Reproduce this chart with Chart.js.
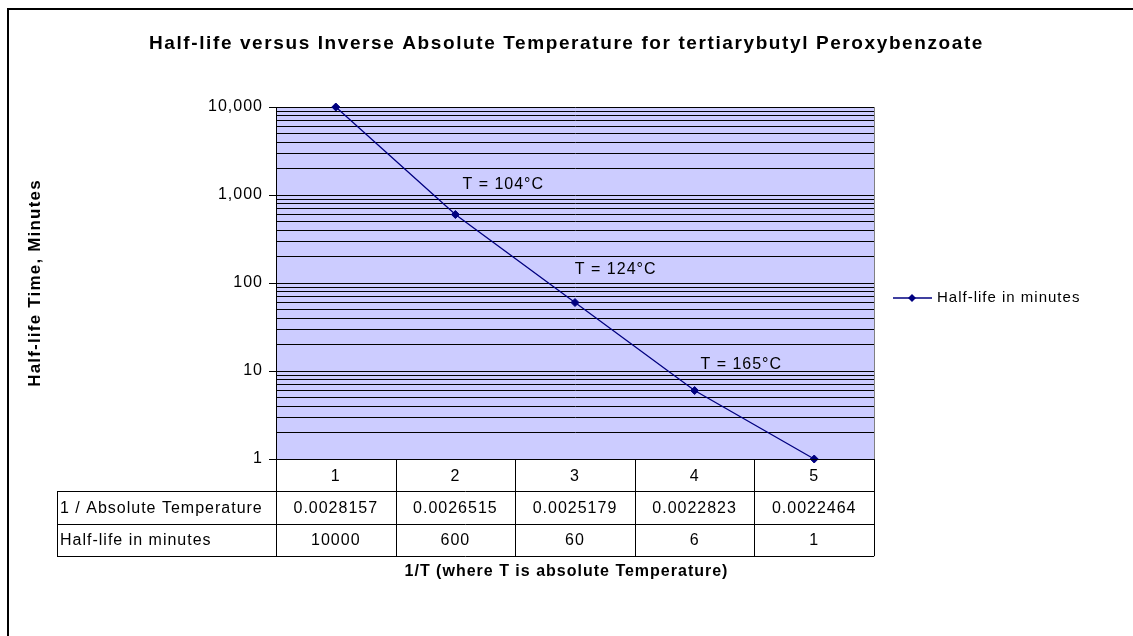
<!DOCTYPE html>
<html>
<head>
<meta charset="utf-8">
<script src="https://cdn.jsdelivr.net/npm/chart.js@4.4.1/dist/chart.umd.min.js"></script>
<style>
  html, body { margin: 0; padding: 0; background: #ffffff; }
  #wrap { width: 1133px; height: 636px; position: relative; }
</style>
</head>
<body>
<div id="wrap"><canvas id="c"></canvas></div>
<script>
// ---- data ----
const categories = ['1', '2', '3', '4', '5'];
const inverseTemperature = ['0.0028157', '0.0026515', '0.0025179', '0.0022823', '0.0022464'];
const halfLifeMinutes = [10000, 600, 60, 6, 1];
const seriesName = 'Half-life in minutes';
const tableRowNames = ['1 / Absolute Temperature', 'Half-life in minutes'];
const yMajorTicks = [1, 10, 100, 1000, 10000];
const annotationText = ['T = 104°C', 'T = 124°C', 'T = 165°C'];
const annotationX = [1.40, 2.34, 3.39];
const annotationY = [1300, 142, 11.7];
const titleText = 'Half-life versus Inverse Absolute Temperature for tertiarybutyl Peroxybenzoate';
const yTitleText = 'Half-life Time, Minutes';
const xTitleText = '1/T (where T is absolute Temperature)';

const FONT = '"Liberation Sans", Arial, sans-serif';
const NAVY = '#000080';

const decorPlugin = {
  id: 'decor',
  beforeLayout(chart) { chart.ctx.letterSpacing = '1px'; },
  beforeDraw(chart) {
    const ctx = chart.ctx;
    const a = chart.chartArea;
    ctx.save();
    ctx.fillStyle = '#ffffff';
    ctx.fillRect(0, 0, chart.width, chart.height);
    ctx.fillStyle = '#CCCCFF';
    ctx.fillRect(a.left, a.top, a.right - a.left, a.bottom - a.top);
    ctx.restore();
    ctx.letterSpacing = '1px';
  },
  afterDatasetsDraw(chart) {
    const ctx = chart.ctx;
    const a = chart.chartArea;
    const xs = chart.scales.x, ys = chart.scales.y;
    ctx.save();
    ctx.letterSpacing = '1px';
    // right border of plot
    ctx.strokeStyle = '#808080';
    ctx.lineWidth = 1;
    ctx.beginPath();
    ctx.moveTo(a.right + 0.5, a.top); ctx.lineTo(a.right + 0.5, a.bottom);
    ctx.stroke();

    // annotations
    ctx.fillStyle = '#000000';
    ctx.font = '16px ' + FONT;
    ctx.textAlign = 'center';
    ctx.textBaseline = 'middle';
    annotationText.forEach((t, i) => {
      ctx.fillText(t, xs.getPixelForValue(annotationX[i]), ys.getPixelForValue(annotationY[i]));
    });

    // data table
    const n = categories.length;
    const step = (a.right - a.left) / n;
    const rowH = 32.4;
    const tableLeft = 57;
    const top = a.bottom;
    ctx.strokeStyle = '#000000';
    ctx.lineWidth = 1;
    ctx.beginPath();
    ctx.moveTo(a.left, Math.round(top) + 0.5); ctx.lineTo(a.right, Math.round(top) + 0.5);
    for (let r = 1; r <= 3; r++) {
      const y = Math.round(top + r * rowH) + 0.5;
      ctx.moveTo(tableLeft, y);
      ctx.lineTo(a.right, y);
    }
    for (let c = 0; c <= n; c++) {
      const x = Math.round(a.left + c * step) + 0.5;
      ctx.moveTo(x, top); ctx.lineTo(x, top + 3 * rowH);
    }
    ctx.moveTo(tableLeft + 0.5, Math.round(top + rowH)); ctx.lineTo(tableLeft + 0.5, Math.round(top + 3 * rowH) + 1);
    ctx.stroke();

    ctx.font = '16px ' + FONT;
    ctx.textBaseline = 'middle';
    ctx.textAlign = 'center';
    categories.forEach((c, i) => {
      ctx.fillText(c, xs.getPixelForValue(i), top + rowH / 2 + 1);
    });
    inverseTemperature.forEach((v, i) => {
      ctx.fillText(v, xs.getPixelForValue(i), top + rowH * 1.5 + 1);
    });
    halfLifeMinutes.forEach((v, i) => {
      ctx.fillText(String(v), xs.getPixelForValue(i), top + rowH * 2.5 + 1);
    });
    ctx.textAlign = 'left';
    tableRowNames.forEach((nm, r) => {
      ctx.fillText(nm, tableLeft + 3, top + rowH * (1.5 + r) + 1);
    });

    // titles
    ctx.textAlign = 'center';
    ctx.font = 'bold 19px ' + FONT;
    ctx.letterSpacing = '1.6px';
    ctx.fillText(titleText, chart.width / 2, 44);
    ctx.font = 'bold 16px ' + FONT;
    ctx.letterSpacing = '1px';
    ctx.fillText(xTitleText, chart.width / 2, 572);
    ctx.save();
    ctx.font = 'bold 17px ' + FONT;
    ctx.letterSpacing = '1.2px';
    ctx.translate(35, (a.top + a.bottom) / 2);
    ctx.rotate(-Math.PI / 2);
    ctx.fillText(yTitleText, 0, 0);
    ctx.restore();
    ctx.letterSpacing = '1px';

    // legend
    const ly = 298;
    ctx.strokeStyle = NAVY;
    ctx.lineWidth = 1.5;
    ctx.beginPath();
    ctx.moveTo(893, ly); ctx.lineTo(932, ly);
    ctx.stroke();
    ctx.fillStyle = NAVY;
    ctx.beginPath();
    ctx.moveTo(912, ly - 4); ctx.lineTo(916, ly); ctx.lineTo(912, ly + 4); ctx.lineTo(908, ly);
    ctx.closePath(); ctx.fill();
    ctx.fillStyle = '#000000';
    ctx.font = '15px ' + FONT;
    ctx.textAlign = 'left';
    ctx.fillText(seriesName, 937, ly);

    // outer border
    ctx.strokeStyle = '#000000';
    ctx.lineWidth = 2;
    ctx.strokeRect(8, 9, chart.width + 20, chart.height + 20);
    ctx.restore();
  }
};

new Chart(document.getElementById('c'), {
  type: 'line',
  data: {
    labels: categories,
    datasets: [{
      label: seriesName,
      data: halfLifeMinutes,
      borderColor: NAVY,
      backgroundColor: NAVY,
      borderWidth: 1.3,
      pointStyle: 'rectRot',
      pointRadius: 4,
      pointHoverRadius: 4,
      pointBackgroundColor: NAVY,
      pointBorderColor: NAVY,
      pointBorderWidth: 1,
      tension: 0,
      clip: false
    }]
  },
  options: {
    responsive: true,
    maintainAspectRatio: false,
    animation: false,
    events: [],
    layout: { padding: { left: 200, right: 259, top: 107, bottom: 177 } },
    plugins: {
      legend: { display: false },
      title: { display: false },
      tooltip: { enabled: false }
    },
    scales: {
      x: {
        type: 'category',
        offset: true,
        display: false
      },
      y: {
        type: 'logarithmic',
        min: 1,
        max: 10000,
        afterFit(scale) { scale.width = 76; },
        afterBuildTicks(scale) {
          const t = [];
          for (let d = 0; d < yMajorTicks.length - 1; d++) {
            for (let k = 1; k <= 9; k++) t.push({ value: k * yMajorTicks[d] });
          }
          t.push({ value: yMajorTicks[yMajorTicks.length - 1] });
          scale.ticks = t;
        },
        border: { display: true, color: '#000000', width: 1 },
        grid: {
          color: '#000000',
          lineWidth: 1,
          drawTicks: true,
          tickLength: 7,
          tickColor: (ctx) => (ctx.tick && yMajorTicks.includes(ctx.tick.value)) ? '#000000' : 'rgba(0,0,0,0)'
        },
        ticks: {
          autoSkip: false,
          padding: 6,
          color: '#000000',
          font: { family: FONT, size: 16 },
          callback: (v) => yMajorTicks.includes(v) ? v.toLocaleString('en-US') : ''
        }
      }
    }
  },
  plugins: [decorPlugin]
});
</script>
</body>
</html>
